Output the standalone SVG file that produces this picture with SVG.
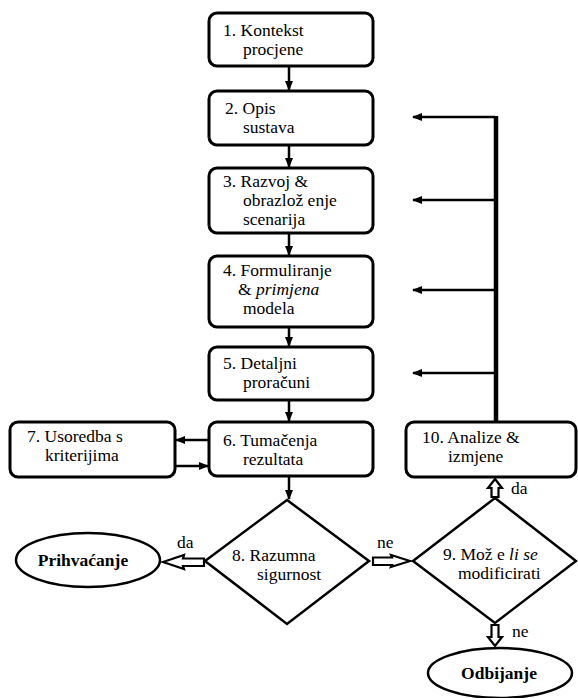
<svg xmlns="http://www.w3.org/2000/svg" width="578" height="698" viewBox="0 0 578 698">
<style>
.box{fill:#fff;stroke:#000;stroke-width:3}
.t{font-size:17.5px;fill:#000}
.b{font-weight:bold}
.ln{stroke:#000;stroke-width:2.5;fill:none}
.hol{fill:#fff;stroke:#000;stroke-width:2.2;stroke-linejoin:miter}
</style>
<defs>
<marker id="ah" viewBox="0 0 10 10" refX="9" refY="5" markerWidth="4" markerHeight="4" orient="auto" markerUnits="strokeWidth">
<path d="M0,1 L10,5 L0,9 Z" fill="#000"/>
</marker>
</defs>
<rect width="578" height="698" fill="#fff"/>
<g font-family="Liberation Serif, Times New Roman, Times, serif">
<g id="connectors">
<line class="ln" x1="289" y1="66" x2="289" y2="90" marker-end="url(#ah)"/>
<line class="ln" x1="289" y1="145" x2="289" y2="167" marker-end="url(#ah)"/>
<line class="ln" x1="289" y1="233" x2="289" y2="255" marker-end="url(#ah)"/>
<line class="ln" x1="289" y1="327" x2="289" y2="346" marker-end="url(#ah)"/>
<line class="ln" x1="289" y1="400" x2="289" y2="421" marker-end="url(#ah)"/>
<line class="ln" x1="289" y1="476" x2="289" y2="499" marker-end="url(#ah)"/>
<line class="ln" x1="209" y1="440" x2="176" y2="440" marker-end="url(#ah)"/>
<line class="ln" x1="175" y1="466" x2="208" y2="466" marker-end="url(#ah)"/>
<line x1="496" y1="116" x2="496" y2="422" stroke="#000" stroke-width="4.5"/>
<line class="ln" x1="495" y1="117" x2="413" y2="117" marker-end="url(#ah)"/>
<line class="ln" x1="495" y1="200" x2="413" y2="200" marker-end="url(#ah)"/>
<line class="ln" x1="495" y1="290" x2="413" y2="290" marker-end="url(#ah)"/>
<line class="ln" x1="495" y1="373" x2="413" y2="373" marker-end="url(#ah)"/>
<polygon class="hol" points="163,562 184,555 183,558.5 204,558.5 204,566 183,566 184,569"/>
<polygon class="hol" points="410,561 391,555 392,557.5 373,557.5 373,565 392,565 391,567"/>
<polygon class="hol" points="495,479 502,488 498.5,488 498.5,497 491.5,497 491.5,488 488,488"/>
<polygon class="hol" points="495,646 502,637 498.5,637 498.5,625 491.5,625 491.5,637 488,637"/>
<text class="t" x="177" y="548">da</text>
<text class="t" x="377" y="548">ne</text>
<text class="t" x="511" y="494">da</text>
<text class="t" x="512" y="637">ne</text>
</g>
<g id="n1"><rect class="box" x="209" y="13" width="164" height="53" rx="8"/>
<text class="t" x="223" y="36">1. Kontekst</text><text class="t" x="243" y="55">procjene</text></g>
<g id="n2"><rect class="box" x="209" y="91" width="164" height="54" rx="8"/>
<text class="t" x="225" y="114">2. Opis</text><text class="t" x="243" y="133">sustava</text></g>
<g id="n3"><rect class="box" x="209" y="168" width="164" height="65" rx="8"/>
<text class="t" x="223" y="187">3. Razvoj &amp;</text><text class="t" x="243" y="206">obrazlož enje</text><text class="t" x="243" y="225">scenarija</text></g>
<g id="n4"><rect class="box" x="209" y="256" width="164" height="71" rx="8"/>
<text class="t" x="223" y="276">4. Formuliranje</text><text class="t" x="238" y="295">&amp; <tspan font-style="italic">primjena</tspan></text><text class="t" x="243" y="314">modela</text></g>
<g id="n5"><rect class="box" x="209" y="347" width="164" height="53" rx="8"/>
<text class="t" x="223" y="369">5. Detaljni</text><text class="t" x="243" y="388">proračuni</text></g>
<g id="n6"><rect class="box" x="209" y="422" width="164" height="54" rx="8"/>
<text class="t" x="223" y="446">6. Tumačenja</text><text class="t" x="243" y="465">rezultata</text></g>
<g id="n7"><rect class="box" x="10" y="422" width="165" height="55" rx="8"/>
<text class="t" x="27" y="442">7. Usoredba s</text><text class="t" x="45" y="461">kriterijima</text></g>
<g id="n10"><rect class="box" x="406" y="422" width="170" height="55" rx="8"/>
<text class="t" x="422" y="443">10. Analize &amp;</text><text class="t" x="448" y="462">izmjene</text></g>
<g id="n8"><polygon points="287,500 369,561 287,624 205,561" fill="#fff" stroke="#000" stroke-width="2.5"/>
<text class="t" x="232" y="561">8. Razumna</text><text class="t" x="257" y="580">sigurnost</text></g>
<g id="n9"><polygon points="495,498 576,561 495,623 413,561" fill="#fff" stroke="#000" stroke-width="2.5"/>
<text class="t" x="443" y="560">9. Mož e <tspan font-style="italic">li se</tspan></text><text class="t" x="458" y="579">modificirati</text></g>
<g id="accept"><ellipse cx="88" cy="560" rx="72" ry="27" fill="#fff" stroke="#000" stroke-width="2.5"/>
<text class="t b" x="83" y="566" text-anchor="middle">Prihvaćanje</text></g>
<g id="reject"><ellipse cx="500" cy="673" rx="72" ry="25" fill="#fff" stroke="#000" stroke-width="2.5"/>
<text class="t b" x="499" y="679" text-anchor="middle">Odbijanje</text></g>
</g>
</svg>
